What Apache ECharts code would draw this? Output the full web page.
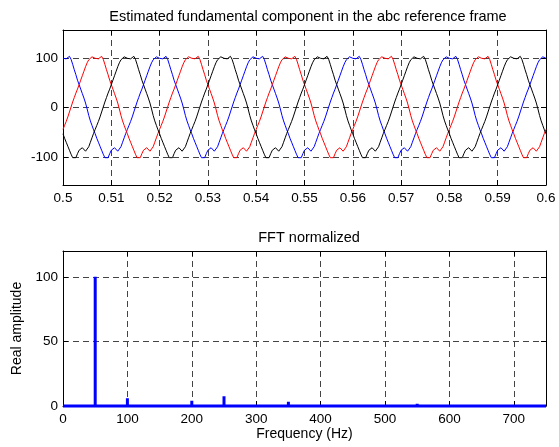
<!DOCTYPE html>
<html><head><meta charset="utf-8">
<script src="https://cdn.jsdelivr.net/npm/echarts@6/dist/echarts.min.js"></script>
<style>html,body{margin:0;padding:0;background:#fff}#c{width:559px;height:447px}</style>
</head><body><div id="c"></div>
<script>
// sample times: 0.5 s .. 0.6 s, one sample every 1/3 ms
const tStart = 0.5;
const tStep = 1 / 3000;

// phase a (blue)
const phaseA = [
99,97,98,100,103,97,87,76,66,55,46,37,28,19,9,-3,-16,-27,-36,-45,
-53,-62,-70,-78,-86,-94,-101,-104,-101,-93,-86,-82,-81,-85,-88,-85,-79,-70,-61,-52,
-44,-36,-28,-19,-9,1,11,20,29,37,46,55,64,73,82,90,96,100,102,101,
99,97,98,100,103,97,87,76,66,55,46,37,28,19,9,-3,-16,-27,-36,-45,
-53,-62,-70,-78,-86,-94,-101,-104,-101,-93,-86,-82,-81,-85,-88,-85,-79,-70,-61,-52,
-44,-36,-28,-19,-9,1,11,20,29,37,46,55,64,73,82,90,96,100,102,101,
99,97,98,100,103,97,87,76,66,55,46,37,28,19,9,-3,-16,-27,-36,-45,
-53,-62,-70,-78,-86,-94,-101,-104,-101,-93,-86,-82,-81,-85,-88,-85,-79,-70,-61,-52,
-44,-36,-28,-19,-9,1,11,20,29,37,46,55,64,73,82,90,96,100,102,101,
99,97,98,100,103,97,87,76,66,55,46,37,28,19,9,-3,-16,-27,-36,-45,
-53,-62,-70,-78,-86,-94,-101,-104,-101,-93,-86,-82,-81,-85,-88,-85,-79,-70,-61,-52,
-44,-36,-28,-19,-9,1,11,20,29,37,46,55,64,73,82,90,96,100,102,101,
99,97,98,100,103,97,87,76,66,55,46,37,28,19,9,-3,-16,-27,-36,-45,
-53,-62,-70,-78,-86,-94,-101,-104,-101,-93,-86,-82,-81,-85,-88,-85,-79,-70,-61,-52,
-44,-36,-28,-19,-9,1,11,20,29,37,46,55,64,73,82,90,96,100,102,101,
99];

// phase b (red)
const phaseB = [
-44,-36,-28,-19,-9,1,11,20,29,37,46,55,64,73,82,90,96,100,102,101,
99,97,98,100,103,97,87,76,66,55,46,37,28,19,9,-3,-16,-27,-36,-45,
-53,-62,-70,-78,-86,-94,-101,-104,-101,-93,-86,-82,-81,-85,-88,-85,-79,-70,-61,-52,
-44,-36,-28,-19,-9,1,11,20,29,37,46,55,64,73,82,90,96,100,102,101,
99,97,98,100,103,97,87,76,66,55,46,37,28,19,9,-3,-16,-27,-36,-45,
-53,-62,-70,-78,-86,-94,-101,-104,-101,-93,-86,-82,-81,-85,-88,-85,-79,-70,-61,-52,
-44,-36,-28,-19,-9,1,11,20,29,37,46,55,64,73,82,90,96,100,102,101,
99,97,98,100,103,97,87,76,66,55,46,37,28,19,9,-3,-16,-27,-36,-45,
-53,-62,-70,-78,-86,-94,-101,-104,-101,-93,-86,-82,-81,-85,-88,-85,-79,-70,-61,-52,
-44,-36,-28,-19,-9,1,11,20,29,37,46,55,64,73,82,90,96,100,102,101,
99,97,98,100,103,97,87,76,66,55,46,37,28,19,9,-3,-16,-27,-36,-45,
-53,-62,-70,-78,-86,-94,-101,-104,-101,-93,-86,-82,-81,-85,-88,-85,-79,-70,-61,-52,
-44,-36,-28,-19,-9,1,11,20,29,37,46,55,64,73,82,90,96,100,102,101,
99,97,98,100,103,97,87,76,66,55,46,37,28,19,9,-3,-16,-27,-36,-45,
-53,-62,-70,-78,-86,-94,-101,-104,-101,-93,-86,-82,-81,-85,-88,-85,-79,-70,-61,-52,
-44];

// phase c (black)
const phaseC = [
-53,-62,-70,-78,-86,-94,-101,-104,-101,-93,-86,-82,-81,-85,-88,-85,-79,-70,-61,-52,
-44,-36,-28,-19,-9,1,11,20,29,37,46,55,64,73,82,90,96,100,102,101,
99,97,98,100,103,97,87,76,66,55,46,37,28,19,9,-3,-16,-27,-36,-45,
-53,-62,-70,-78,-86,-94,-101,-104,-101,-93,-86,-82,-81,-85,-88,-85,-79,-70,-61,-52,
-44,-36,-28,-19,-9,1,11,20,29,37,46,55,64,73,82,90,96,100,102,101,
99,97,98,100,103,97,87,76,66,55,46,37,28,19,9,-3,-16,-27,-36,-45,
-53,-62,-70,-78,-86,-94,-101,-104,-101,-93,-86,-82,-81,-85,-88,-85,-79,-70,-61,-52,
-44,-36,-28,-19,-9,1,11,20,29,37,46,55,64,73,82,90,96,100,102,101,
99,97,98,100,103,97,87,76,66,55,46,37,28,19,9,-3,-16,-27,-36,-45,
-53,-62,-70,-78,-86,-94,-101,-104,-101,-93,-86,-82,-81,-85,-88,-85,-79,-70,-61,-52,
-44,-36,-28,-19,-9,1,11,20,29,37,46,55,64,73,82,90,96,100,102,101,
99,97,98,100,103,97,87,76,66,55,46,37,28,19,9,-3,-16,-27,-36,-45,
-53,-62,-70,-78,-86,-94,-101,-104,-101,-93,-86,-82,-81,-85,-88,-85,-79,-70,-61,-52,
-44,-36,-28,-19,-9,1,11,20,29,37,46,55,64,73,82,90,96,100,102,101,
99,97,98,100,103,97,87,76,66,55,46,37,28,19,9,-3,-16,-27,-36,-45,
-53];

// FFT spectrum (normalized)
const fftFreq = [50, 100, 200, 250, 350, 550];
const fftAmp  = [100, 6, 4, 7.5, 3.3, 1.8];

// tick labels
const topYTicks = [-100, 0, 100];
const topXTicks = [0.5, 0.51, 0.52, 0.53, 0.54, 0.55, 0.56, 0.57, 0.58, 0.59, 0.6];
const botXTicks = [0, 100, 200, 300, 400, 500, 600, 700];
const botYTicks = [0, 50, 100];

const FONT = "'Liberation Sans', Arial, Helvetica, sans-serif";
const titles = ['Estimated fundamental component in the abc reference frame', 'FFT normalized'];

function series(vals) {
  return vals.map((v, k) => [tStart + k * tStep, v]);
}
const spectrum = [[0, 0]];
fftFreq.forEach((f, i) => { spectrum.push([f, 0], [f, fftAmp[i]], [f, 0]); });
spectrum.push([750, 0]);

const gridLine = { show: true, lineStyle: { color: '#444', width: 1, type: [6, 4] } };
const line = { show: true, onZero: false, lineStyle: { color: '#000', width: 1 } };
const tick = { show: true, inside: true, length: 5, lineStyle: { color: '#000' } };
const lab = (m) => ({ show: true, color: '#000', fontSize: 13.5, fontFamily: FONT, margin: m });

const option = {
  animation: false,
  backgroundColor: '#fff',
  title: [
    { text: titles[0], left: 303, top: 4, textAlign: 'center',
      textStyle: { fontSize: 14.5, fontWeight: 'normal', color: '#000', fontFamily: FONT } },
    { text: titles[1], left: 304, top: 225, textAlign: 'center',
      textStyle: { fontSize: 14.5, fontWeight: 'normal', color: '#000', fontFamily: FONT } }
  ],
  grid: [
    { left: 63, top: 30, width: 483, height: 155 },
    { left: 63, top: 251, width: 483, height: 155 }
  ],
  xAxis: [
    { gridIndex: 0, type: 'value', min: topXTicks[0], max: topXTicks[topXTicks.length - 1], interval: 0.01,
      axisLine: line, axisTick: tick, axisLabel: lab(6), splitLine: gridLine },
    { gridIndex: 0, type: 'value', position: 'top', min: 0.5, max: 0.6, interval: 0.01,
      axisLine: line, axisTick: tick, axisLabel: { show: false }, splitLine: { show: false } },
    { gridIndex: 1, type: 'value', min: botXTicks[0], max: 750, interval: 100,
      name: 'Frequency (Hz)', nameLocation: 'middle', nameGap: 21,
      nameTextStyle: { fontSize: 14, color: '#000', fontFamily: FONT },
      axisLine: line, axisTick: tick, axisLabel: Object.assign(lab(6), { showMaxLabel: false }), splitLine: gridLine },
    { gridIndex: 1, type: 'value', position: 'top', min: 0, max: 750, interval: 100,
      axisLine: line, axisTick: tick, axisLabel: { show: false }, splitLine: { show: false } }
  ],
  yAxis: [
    { gridIndex: 0, type: 'value', min: -156, max: 156,
      axisLine: line,
      axisTick: Object.assign({}, tick, { customValues: topYTicks }),
      axisLabel: Object.assign(lab(5), { customValues: topYTicks }),
      splitLine: gridLine },
    { gridIndex: 0, type: 'value', position: 'right', min: -156, max: 156,
      axisLine: line, axisTick: Object.assign({}, tick, { customValues: topYTicks }),
      axisLabel: { show: false }, splitLine: { show: false } },
    { gridIndex: 1, type: 'value', min: botYTicks[0], max: 120, interval: 50,
      name: 'Real amplitude', nameLocation: 'middle', nameGap: 36, nameRotate: 90,
      nameTextStyle: { fontSize: 14, color: '#000', fontFamily: FONT },
      axisLine: line, axisTick: tick, axisLabel: Object.assign(lab(5), { showMaxLabel: false }), splitLine: gridLine },
    { gridIndex: 1, type: 'value', position: 'right', min: 0, max: 120, interval: 50,
      axisLine: line, axisTick: tick, axisLabel: { show: false }, splitLine: { show: false } }
  ],
  series: [
    { type: 'line', xAxisIndex: 0, yAxisIndex: 0, data: series(phaseA), showSymbol: false, symbol: 'none',
      lineStyle: { color: '#0000ff', width: 1 }, itemStyle: { color: '#0000ff' } },
    { type: 'line', xAxisIndex: 0, yAxisIndex: 0, data: series(phaseB), showSymbol: false, symbol: 'none',
      lineStyle: { color: '#ff0000', width: 1 }, itemStyle: { color: '#ff0000' } },
    { type: 'line', xAxisIndex: 0, yAxisIndex: 0, data: series(phaseC), showSymbol: false, symbol: 'none',
      lineStyle: { color: '#000000', width: 1 }, itemStyle: { color: '#000000' } },
    { type: 'line', xAxisIndex: 2, yAxisIndex: 2, data: spectrum, showSymbol: false, symbol: 'none', clip: false,
      lineStyle: { color: '#0000ff', width: 3 }, itemStyle: { color: '#0000ff' } }
  ]
};
const chart = echarts.init(document.getElementById('c'), null, { renderer: 'canvas' });
chart.setOption(option);
</script>
</body></html>
